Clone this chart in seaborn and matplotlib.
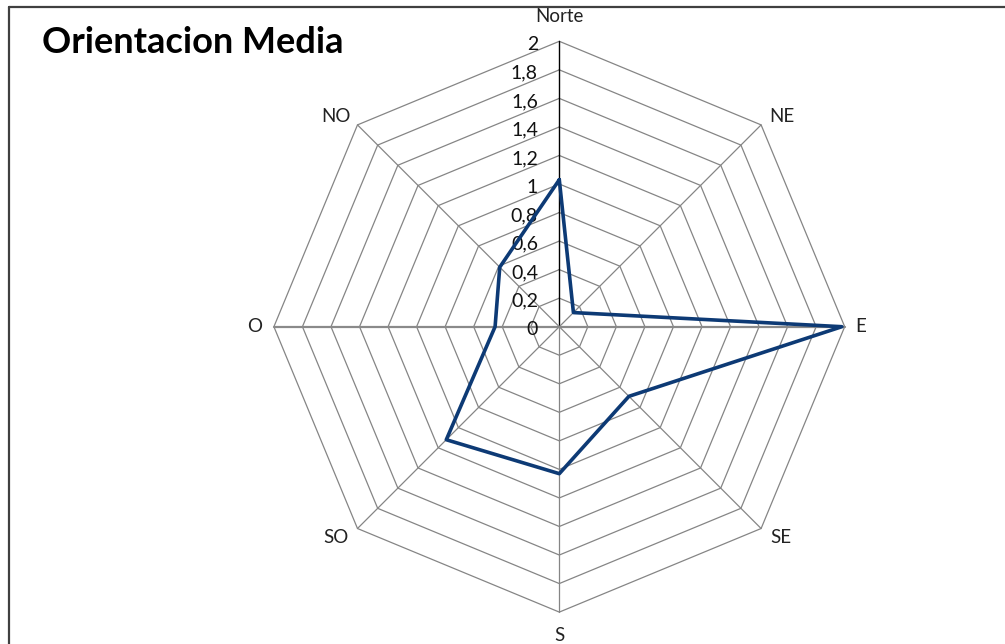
import numpy as np
import pandas as pd
import matplotlib
matplotlib.use("Agg")
import matplotlib.pyplot as plt
from matplotlib.lines import Line2D
import seaborn as sns

# Mean orientation values per compass direction
directions = ["Norte", "NE", "E", "SE", "S", "SO", "O", "NO"]
values = [1.03, 0.14, 1.98, 0.69, 1.03, 1.12, 0.45, 0.59]
tick_values = [0, 0.2, 0.4, 0.6, 0.8, 1.0, 1.2, 1.4, 1.6, 1.8, 2.0]
tick_labels = ["0", "0,2", "0,4", "0,6", "0,8", "1", "1,2", "1,4", "1,6", "1,8", "2"]
title = "Orientacion Media"

sns.set_theme(style="white")
plt.rcParams["font.family"] = ["Lato", "DejaVu Sans"]

W, H, DPI = 1005, 644, 100
fig = plt.figure(figsize=(W / DPI, H / DPI), dpi=DPI)
fig.patch.set_facecolor("white")
ax = fig.add_axes([0, 0, 1, 1])
ax.set_axis_off()

# chart centre and scale (pixels per unit)
cx, cy = 559.3, 326.7
ppu = 142.7
ax.set_xlim(-cx / ppu, (W - cx) / ppu)
ax.set_ylim(-(H - cy) / ppu, cy / ppu)
ax.set_aspect("equal")

n = len(directions)
angles = np.arange(n) * 2 * np.pi / n  # clockwise from north
sx, sy = np.sin(angles), np.cos(angles)

# octagonal grid rings
rmax = tick_values[-1]
for r in tick_values[1:]:
    ax.plot(np.append(sx, sx[0]) * r, np.append(sy, sy[0]) * r,
            color="#858585", lw=0.9, zorder=1)

# spokes
for i in range(n):
    if i == 0:
        col, lw = "#000000", 1.0
    elif i in (2, 6):
        col, lw = "#8a8a8a", 1.6
    else:
        col, lw = "#858585", 0.9
    ax.plot([0, sx[i] * rmax], [0, sy[i] * rmax], color=col, lw=lw, zorder=1)

# value axis labels along the north spoke
for v, lab in zip(tick_values, tick_labels):
    ax.text(-0.15, v - 0.061, lab, ha="right", va="baseline", fontsize=14,
            color="#111111", zorder=3)

# direction labels
label_pos = {
    "Norte": (0.0, 2.173),
    "NE": (1.563, 1.47),
    "E": (2.115, 0.0),
    "SE": (1.556, -1.48),
    "S": (0.0, -2.165),
    "SO": (-1.563, -1.48),
    "O": (-2.135, 0.0),
    "NO": (-1.563, 1.47),
}
for name in directions:
    px, py = label_pos[name]
    ax.text(px, py, name, ha="center", va="center", fontsize=13.5,
            color="#222222")

# data polygon
data = pd.DataFrame({
    "x": np.append(sx * np.array(values), sx[0] * values[0]),
    "y": np.append(sy * np.array(values), sy[0] * values[0]),
    "order": np.arange(n + 1),
})
sns.lineplot(data=data, x="x", y="y", sort=False, estimator=None,
             color="#0d3a75", lw=2.6, ax=ax, zorder=4)
ax.set_xlabel("")
ax.set_ylabel("")

# title
fig.text(42 / W, 1 - 53 / H, title, ha="left", va="baseline",
         fontsize=26, fontweight="bold", color="#000000")

# chart border (top and left edges)
fig.add_artist(Line2D([8.5 / W, 1.0], [1 - 7 / H, 1 - 7 / H],
                      transform=fig.transFigure, color="#404040", lw=1.6))
fig.add_artist(Line2D([8.5 / W, 8.5 / W], [0, 1 - 7 / H],
                      transform=fig.transFigure, color="#404040", lw=1.6))

fig.savefig("out.png", dpi=DPI, facecolor="white")
